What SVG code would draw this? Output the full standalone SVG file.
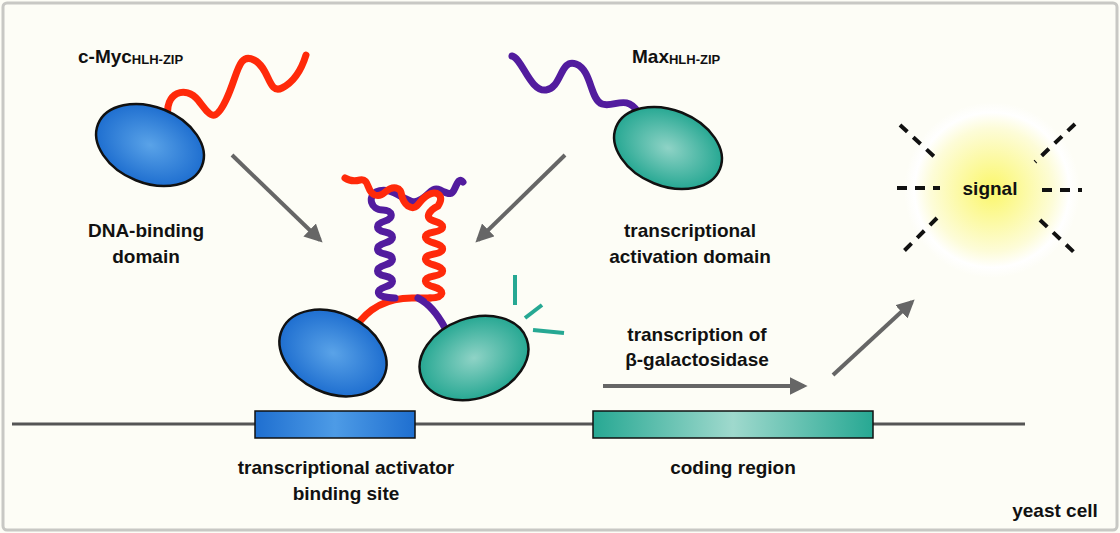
<svg xmlns="http://www.w3.org/2000/svg" width="1120" height="533" viewBox="0 0 1120 533">
<defs>
<radialGradient id="gb" cx="50%" cy="50%" r="50%"><stop offset="0" stop-color="#5aa3e8"/><stop offset="1" stop-color="#1f6fd0"/></radialGradient>
<radialGradient id="gt" cx="50%" cy="50%" r="50%"><stop offset="0" stop-color="#8fd3c6"/><stop offset="1" stop-color="#27a893"/></radialGradient>
<radialGradient id="gs" cx="50%" cy="50%" r="50%"><stop offset="0" stop-color="#fbf76a"/><stop offset="0.7" stop-color="#fdfcd8"/><stop offset="0.88" stop-color="#ffffff"/><stop offset="1" stop-color="#fdfdf6"/></radialGradient>
<linearGradient id="lb" x1="0" x2="1"><stop offset="0" stop-color="#1f6fd0"/><stop offset="0.5" stop-color="#4d9be6"/><stop offset="1" stop-color="#1f6fd0"/></linearGradient>
<linearGradient id="lt" x1="0" x2="1"><stop offset="0" stop-color="#27a893"/><stop offset="0.5" stop-color="#9fd9cd"/><stop offset="1" stop-color="#27a893"/></linearGradient>
<marker id="ah" viewBox="0 0 10 10" refX="8" refY="5" markerWidth="4.5" markerHeight="4.5" orient="auto"><path d="M0,0 L10,5 L0,10 z" fill="#666"/></marker>
</defs>
<style>
text{font-family:"Liberation Sans",Arial,sans-serif;font-weight:bold;font-size:19px;fill:#111;text-anchor:middle}
.red{fill:none;stroke:#ff2a0a;stroke-width:7;stroke-linecap:round}
.pur{fill:none;stroke:#521c9e;stroke-width:7;stroke-linecap:round}
.arr{stroke:#666;stroke-width:4;marker-end:url(#ah)}
.dash{stroke:#111;stroke-width:4;stroke-dasharray:10 8}
.tl{stroke:#26a893;stroke-width:4}
.el{stroke:#111;stroke-width:2.5}
</style>
<rect x="0" y="0" width="1120" height="533" fill="#fdfdf6"/>
<rect x="3" y="3" width="1114" height="527" rx="4" fill="none" stroke="#c8c8c4" stroke-width="3"/>
<g id="baseline"><line x1="12" y1="424" x2="1025" y2="424" stroke="#555" stroke-width="3"/></g>
<g id="binding-site"><rect x="255" y="411" width="160" height="27" fill="url(#lb)" stroke="#111" stroke-width="1.5"/>
<text x="346" y="474">transcriptional activator</text><text x="346" y="500">binding site</text></g>
<g id="coding-region"><rect x="593" y="411" width="280" height="27" fill="url(#lt)" stroke="#111" stroke-width="1.5"/>
<text x="733" y="474">coding region</text></g>
<g id="cmyc"><path class="red" d="M168,118 C164,92 186,85 198,100 S214,125 226,100 S238,52 254,60 S268,95 282,88 S302,68 306,55"/>
<ellipse cx="150" cy="145" rx="56" ry="38" transform="rotate(22 150 145)" fill="url(#gb)" class="el"/>
<text x="78" y="63" style="text-anchor:start">c-Myc<tspan font-size="13" dy="1">HLH-ZIP</tspan></text>
<text x="146" y="237">DNA-binding</text><text x="146" y="263">domain</text></g>
<g id="max"><path class="pur" d="M512,56 C522,58 530,92 546,90 S560,58 576,64 S590,100 602,104 S626,94 638,112"/>
<ellipse cx="668" cy="148" rx="56" ry="38" transform="rotate(22 668 148)" fill="url(#gt)" class="el"/>
<text x="632" y="63" style="text-anchor:start">Max<tspan font-size="13" dy="1">HLH-ZIP</tspan></text>
<text x="690" y="237">transcriptional</text><text x="690" y="263">activation domain</text></g>
<g id="complex">
<path class="red" d="M355,328 C370,305 390,298 412,298 L430,298"/>
<path class="pur" d="M445,328 C438,315 428,303 418,298"/>
<path class="pur" d="M395,298 C375,298 375,290 385,287 S395,278 385,276 S375,268 385,265 S395,256 385,254 S375,246 385,243 S395,234 385,232 S375,224 385,221 S392,210 383,210 C370,210 368,196 376,192 C390,185 402,200 414,202 C428,200 430,185 440,190 S452,195 455,188 S460,178 463,182"/>
<path class="red" d="M430,298 C445,298 445,290 434,287 S422,278 434,276 S445,268 434,265 S422,256 434,254 S445,246 434,243 S422,234 434,232 S445,224 434,221 S430,210 438,206 C445,195 436,190 428,195 C418,200 418,212 408,206 C398,198 405,190 396,188 C386,186 385,198 375,195 C366,192 370,178 360,180 C352,182 348,180 345,178"/>
<ellipse cx="333" cy="353" rx="56" ry="40" transform="rotate(25 333 353)" fill="url(#gb)" class="el"/>
<ellipse cx="474" cy="358" rx="56" ry="40" transform="rotate(-20 474 358)" fill="url(#gt)" class="el"/>
<line class="tl" x1="515" y1="275" x2="515" y2="305"/><line class="tl" x1="525" y1="318" x2="542" y2="305"/><line class="tl" x1="533" y1="330" x2="564" y2="333"/>
</g>
<g id="signal"><circle cx="992" cy="190" r="88" fill="url(#gs)"/>
<line class="dash" x1="900" y1="125" x2="938" y2="160"/><line class="dash" x1="1075" y1="124" x2="1035" y2="162"/>
<line class="dash" x1="897" y1="188" x2="940" y2="188"/><line class="dash" x1="1042" y1="190" x2="1082" y2="190"/>
<line class="dash" x1="937" y1="218" x2="902" y2="253"/><line class="dash" x1="1040" y1="220" x2="1078" y2="256"/>
<text x="990" y="195">signal</text></g>
<g id="connectors">
<line class="arr" x1="232" y1="155" x2="320" y2="240"/>
<line class="arr" x1="565" y1="155" x2="478" y2="240"/>
<line class="arr" x1="603" y1="386" x2="804" y2="386"/>
<line class="arr" x1="833" y1="375" x2="912" y2="302"/>
</g>
<text x="697" y="341">transcription of</text><text x="697" y="366">β-galactosidase</text>
<text x="1055" y="517">yeast cell</text>
</svg>
